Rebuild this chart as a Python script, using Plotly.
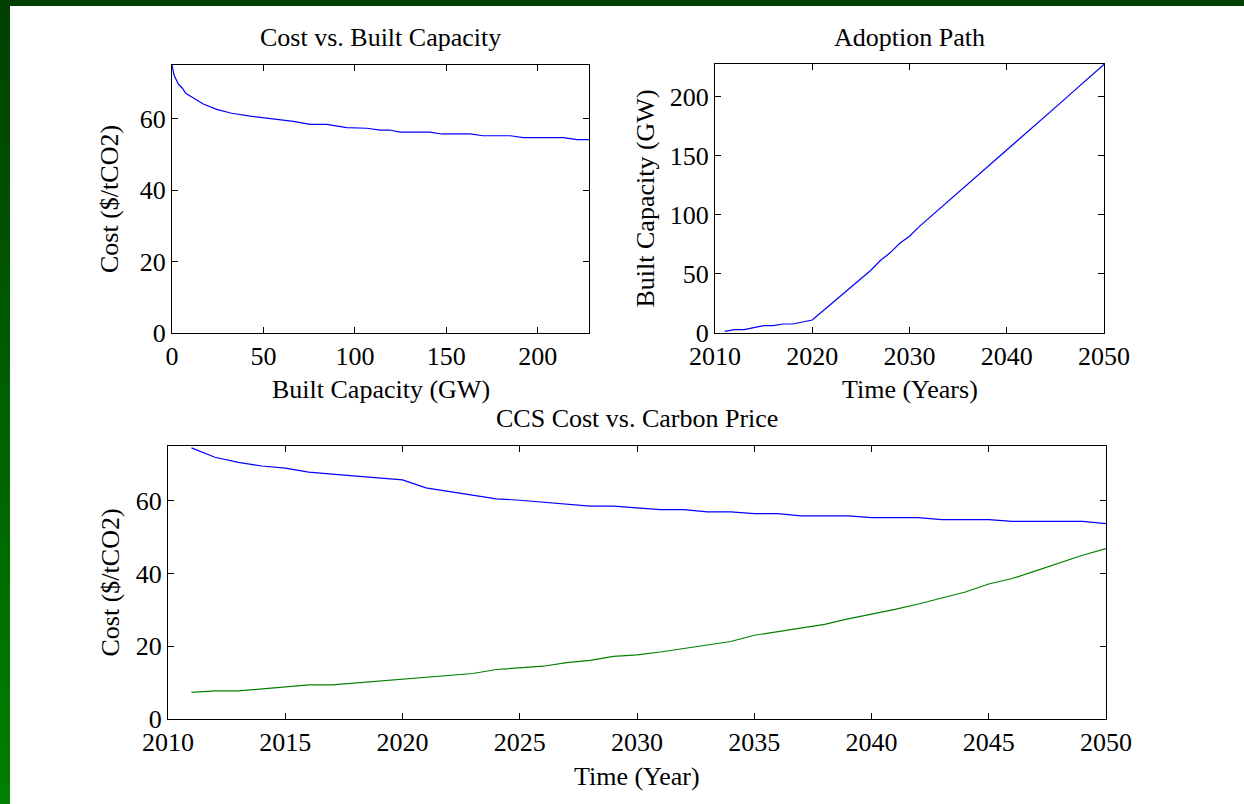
import plotly.graph_objects as go

# ---------------- data ----------------
years = list(range(2011, 2051))

built_capacity_gw = [1.4, 2.8, 2.8, 4.8, 6.2, 6.2, 7.6, 7.6, 9.3, 11.0,
                     18.0, 25.0, 32.0, 39.0, 45.8, 52.9, 61.3, 67.8, 75.9, 81.8,
                     90.0, 97.2, 104.4, 111.6, 118.8, 126.0, 133.2, 140.4, 147.6, 154.1,
                     161.4, 168.8, 176.1, 183.4, 190.7, 198.0, 205.4, 212.7, 220.0, 227.2]

ccs_cost = [74.5, 71.9, 70.5, 69.5, 68.9, 67.8, 67.3, 66.7, 66.3, 65.7,
            63.5, 62.5, 61.5, 60.5, 60.1, 59.5, 59.0, 58.5, 58.5, 58.0,
            57.5, 57.5, 56.9, 56.9, 56.4, 56.4, 55.8, 55.8, 55.8, 55.3,
            55.3, 55.3, 54.8, 54.8, 54.8, 54.3, 54.3, 54.3, 54.3, 53.7]

carbon_price = [7.3, 7.7, 7.7, 8.3, 8.8, 9.4, 9.4, 9.9, 10.5, 11.0,
                11.5, 12.0, 12.5, 13.6, 14.1, 14.5, 15.5, 16.1, 17.2, 17.6,
                18.4, 19.4, 20.5, 21.3, 23.0, 24.0, 25.0, 26.0, 27.5, 28.7,
                30.1, 31.6, 33.3, 34.9, 37.1, 38.6, 40.7, 42.8, 45.0, 46.8]

# learning curve (cost vs. built capacity)
curve_capacity = [0, 1.1, 3.5, 5.7, 7.5, 11.7, 17.1, 24.4, 32.6, 42.7, 55.4, 66.4,
                  75.5, 84.6, 95.5, 106.5, 113.8, 119.0, 124.7, 141.0, 147.5, 163.0,
                  170.0, 185.0, 192.0, 214.0, 221.5, 228.0]
curve_cost = [75.0, 72.2, 69.6, 68.5, 67.1, 65.7, 64.1, 62.6, 61.5, 60.7, 59.9, 59.2,
              58.4, 58.4, 57.5, 57.3, 56.8, 56.8, 56.2, 56.2, 55.7, 55.7,
              55.2, 55.2, 54.7, 54.7, 54.1, 54.1]

titles = ["Cost vs. Built Capacity", "Adoption Path", "CCS Cost vs. Carbon Price"]

# ---------------- layout geometry ----------------
W, H = 1244, 804
FONT = "Liberation Serif, Times New Roman, serif"
FS = 26


def px_x(p):
    return p / W


def px_y(p):
    return 1 - p / H


fig = go.Figure()

fig.add_trace(go.Scatter(x=curve_capacity, y=curve_cost, mode="lines",
                         line=dict(color="#0000ff", width=1.2),
                         xaxis="x", yaxis="y", showlegend=False))
fig.add_trace(go.Scatter(x=years, y=built_capacity_gw, mode="lines",
                         line=dict(color="#0000ff", width=1.2),
                         xaxis="x2", yaxis="y2", showlegend=False))
fig.add_trace(go.Scatter(x=years, y=ccs_cost, mode="lines",
                         line=dict(color="#0000ff", width=1.2),
                         xaxis="x3", yaxis="y3", showlegend=False))
fig.add_trace(go.Scatter(x=years, y=carbon_price, mode="lines",
                         line=dict(color="#008000", width=1.2),
                         xaxis="x3", yaxis="y3", showlegend=False))

axis_common = dict(showline=True, linecolor="#000000", linewidth=1, mirror="allticks",
                   ticks="inside", ticklen=6, tickcolor="#000000", tickwidth=1,
                   showgrid=False, zeroline=False, automargin=False,
                   tickfont=dict(family=FONT, size=FS, color="#000000"))

# panel boxes (pixels): left, right, top, bottom
p1 = (172, 589, 65, 333)
p2 = (715, 1104, 64, 333)
p3 = (168, 1106, 446, 719)

fig.update_layout(
    width=W, height=H, autosize=False,
    margin=dict(l=0, r=0, t=0, b=0, pad=0, autoexpand=False),
    paper_bgcolor="#ffffff", plot_bgcolor="#ffffff",
    font=dict(family=FONT, size=FS, color="#000000"),
    xaxis=dict(domain=[px_x(p1[0]), px_x(p1[1])], range=[0, 228], tickvals=[0, 50, 100, 150, 200],
               anchor="y", **axis_common),
    yaxis=dict(domain=[px_y(p1[3]), px_y(p1[2])], range=[0, 75], tickvals=[0, 20, 40, 60],
               anchor="x", **axis_common),
    xaxis2=dict(domain=[px_x(p2[0]), px_x(p2[1])], range=[2010, 2050],
                tickvals=[2010, 2020, 2030, 2040, 2050], anchor="y2", **axis_common),
    yaxis2=dict(domain=[px_y(p2[3]), px_y(p2[2])], range=[0, 227.5],
                tickvals=[0, 50, 100, 150, 200], anchor="x2", **axis_common),
    xaxis3=dict(domain=[px_x(p3[0]), px_x(p3[1])], range=[2010, 2050],
                tickvals=list(range(2010, 2051, 5)), anchor="y3", **axis_common),
    yaxis3=dict(domain=[px_y(p3[3]), px_y(p3[2])], range=[0, 75], tickvals=[0, 20, 40, 60],
                anchor="x3", **axis_common),
)

# decorative slide border: dark top strip and green gradient on the left
shapes = []
n = 40
for i in range(n):
    g = int(64 + (128 - 64) * (i + 0.5) / n)
    shapes.append(dict(type="rect", xref="paper", yref="paper",
                       x0=0, x1=px_x(10),
                       y0=max(0, 1 - (i + 1) / n - 0.002), y1=1 - i / n,
                       fillcolor=f"rgb(0,{g},0)", line=dict(width=0), layer="above"))
shapes.append(dict(type="rect", xref="paper", yref="paper", x0=0, x1=1, y0=px_y(6), y1=1,
                   fillcolor="rgb(0,64,0)", line=dict(width=0), layer="above"))
fig.update_layout(shapes=shapes)

annotations = []


def text(x, y, s, angle=0):
    annotations.append(dict(x=px_x(x), y=px_y(y), xref="paper", yref="paper", text=s,
                            showarrow=False, xanchor="center", yanchor="middle",
                            textangle=angle, font=dict(family=FONT, size=FS, color="#000000")))


text((p1[0] + p1[1]) / 2, 37, titles[0])
text((p2[0] + p2[1]) / 2, 37, titles[1])
text((p3[0] + p3[1]) / 2, 418, titles[2])
text((p1[0] + p1[1]) / 2, 390, "Built Capacity (GW)")
text((p2[0] + p2[1]) / 2, 390, "Time (Years)")
text((p3[0] + p3[1]) / 2, 776, "Time (Year)")
text(110, (p1[2] + p1[3]) / 2, "Cost ($/tCO2)", -90)
text(645, (p2[2] + p2[3]) / 2, "Built Capacity (GW)", -90)
text(110, (p3[2] + p3[3]) / 2, "Cost ($/tCO2)", -90)
fig.update_layout(annotations=annotations)

fig.write_html("out.html", config={"displayModeBar": False},
               post_script="document.body.style.margin='0';document.body.style.overflow='hidden';")
